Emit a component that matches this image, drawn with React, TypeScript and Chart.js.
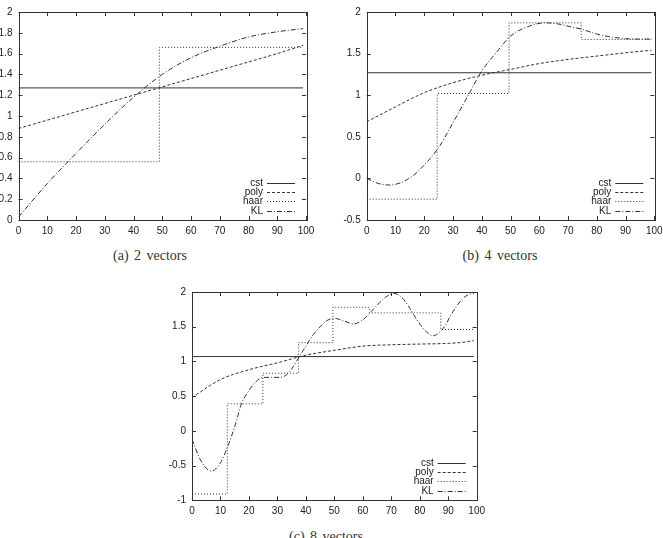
import React, { useEffect, useRef } from 'react';
import { Chart, registerables } from 'chart.js';

Chart.register(...registerables);

// ---------------- data ----------------
const SERIES_NAMES = ['cst', 'poly', 'haar', 'KL'];
const X_MIN = 0;
const X_MAX = 100;
const X_STEP = 10;

// (a) 2 vectors
const A_CAPTION = '(a) 2 vectors';
const A_Y_MIN = 0;
const A_Y_MAX = 2;
const A_Y_STEP = 0.2;
const A_CST_X = [0, 99];
const A_CST_Y = [1.27, 1.27];
const A_POLY_X = [0, 10, 20, 30, 40, 50, 60, 70, 80, 90, 99];
const A_POLY_Y = [0.88, 0.96, 1.04, 1.12, 1.2, 1.28, 1.36, 1.44, 1.52, 1.6, 1.68];
const A_HAAR_EDGES = [0, 49, 99];
const A_HAAR_LEVELS = [0.56, 1.66];
const A_KL_X = [0, 10, 20, 30, 40, 50, 60, 70, 80, 90, 99];
const A_KL_Y = [0.03, 0.35, 0.64, 0.92, 1.18, 1.4, 1.56, 1.67, 1.76, 1.81, 1.84];

// (b) 4 vectors
const B_CAPTION = '(b) 4 vectors';
const B_Y_MIN = -0.5;
const B_Y_MAX = 2;
const B_Y_STEP = 0.5;
const B_CST_X = [0, 99];
const B_CST_Y = [1.27, 1.27];
const B_POLY_X = [0, 10, 20, 30, 40, 50, 60, 70, 80, 90, 99];
const B_POLY_Y = [0.68, 0.86, 1.03, 1.15, 1.24, 1.31, 1.38, 1.43, 1.47, 1.51, 1.54];
const B_HAAR_EDGES = [0, 24.5, 49.5, 74.6, 99];
const B_HAAR_LEVELS = [-0.25, 1.02, 1.87, 1.67];
const B_KL_X = [0, 4, 8, 12, 16, 20, 25, 30, 35, 40, 45, 50, 55, 62, 66, 70, 75, 80, 85, 90, 95, 99];
const B_KL_Y = [0.0, -0.06, -0.08, -0.05, 0.03, 0.16, 0.37, 0.67, 0.98, 1.29, 1.51, 1.71, 1.81, 1.87, 1.86, 1.83, 1.79, 1.735, 1.7, 1.68, 1.675, 1.675];

// (c) 8 vectors
const C_CAPTION = '(c) 8 vectors';
const C_Y_MIN = -1;
const C_Y_MAX = 2;
const C_Y_STEP = 0.5;
const C_CST_X = [0, 99];
const C_CST_Y = [1.07, 1.07];
const C_POLY_X = [0, 10, 20, 30, 40, 50, 60, 70, 80, 90, 95, 99];
const C_POLY_Y = [0.48, 0.74, 0.88, 0.98, 1.09, 1.16, 1.22, 1.24, 1.25, 1.26, 1.275, 1.3];
const C_HAAR_EDGES = [0, 12.4, 24.9, 37.4, 49.5, 62.3, 74.8, 87.4, 99];
const C_HAAR_LEVELS = [-0.91, 0.39, 0.83, 1.27, 1.78, 1.7, 1.7, 1.46];
const C_KL_X = [0, 3, 6.8, 10, 12.4, 15, 17.4, 20, 22.5, 25, 28, 31, 33, 35, 37.7, 40, 42.5, 45, 47.5, 50, 53, 56.7, 60, 63, 66, 68.5, 71, 73.5, 76, 79, 82, 84.7, 87, 89, 91, 93, 95, 97, 99];
const C_KL_Y = [-0.12, -0.42, -0.58, -0.46, -0.24, 0.06, 0.39, 0.58, 0.71, 0.77, 0.77, 0.77, 0.8, 0.89, 1.07, 1.22, 1.38, 1.5, 1.59, 1.62, 1.59, 1.54, 1.6, 1.72, 1.85, 1.94, 1.98, 1.93, 1.8, 1.6, 1.44, 1.37, 1.42, 1.52, 1.67, 1.8, 1.9, 1.96, 1.98];

// ---------------- styling ----------------
const INK = '#333333';
const TEXT = '#222222';
const TICK_FONT = { family: '"Liberation Sans", Arial, sans-serif', size: 10 };
const DASHES: Record<string, number[]> = {
  cst: [],
  poly: [3, 2],
  haar: [1, 2],
  KL: [5, 2, 1, 2],
};

function zip(xs: number[], ys: number[]) {
  return xs.map((x, i) => ({ x, y: ys[i] }));
}
// point i sits at the right end of level i-1 ... drawn with stepped:'before'
// (horizontal at previous level, then vertical at the edge)
function steps(edges: number[], levels: number[]) {
  return edges.map((x, i) => ({ x, y: levels[Math.min(i, levels.length - 1)] }));
}

const framePlugin = {
  id: 'gnuframe',
  afterDatasetsDraw(chart: any) {
    const { ctx, chartArea: a, scales } = chart;
    const tl = 4;
    ctx.save();
    ctx.strokeStyle = INK;
    ctx.lineWidth = 1;
    ctx.setLineDash([]);
    ctx.beginPath();
    for (const t of scales.x.ticks) {
      const px = Math.round(scales.x.getPixelForValue(t.value)) + 0.5;
      ctx.moveTo(px, a.bottom);
      ctx.lineTo(px, a.bottom - tl);
      ctx.moveTo(px, a.top);
      ctx.lineTo(px, a.top + tl);
    }
    for (const t of scales.y.ticks) {
      const py = Math.round(scales.y.getPixelForValue(t.value)) + 0.5;
      ctx.moveTo(a.left, py);
      ctx.lineTo(a.left + tl, py);
      ctx.moveTo(a.right, py);
      ctx.lineTo(a.right - tl, py);
    }
    ctx.stroke();
    ctx.strokeRect(Math.round(a.left) + 0.5, Math.round(a.top) + 0.5, Math.round(a.right - a.left), Math.round(a.bottom - a.top));

    // legend (gnuplot style: text then sample, bottom right inside)
    const rows = [-37, -28, -19, -9.5];
    ctx.font = `${TICK_FONT.size}px ${TICK_FONT.family}`;
    ctx.textAlign = 'right';
    ctx.textBaseline = 'middle';
    chart.data.datasets.forEach((ds: any, i: number) => {
      const y = Math.round(a.bottom + rows[i]) + 0.5;
      ctx.fillStyle = TEXT;
      ctx.fillText(ds.label, a.right - 43, y);
      ctx.strokeStyle = ds.borderColor;
      ctx.setLineDash(ds.borderDash || []);
      ctx.beginPath();
      ctx.moveTo(a.right - 39, y);
      ctx.lineTo(a.right - 11, y);
      ctx.stroke();
    });
    ctx.restore();
  },
};

type Spec = {
  width: number;
  height: number;
  plotLeft: number;
  plotRight: number;
  plotTop: number;
  plotBottom: number;
  yMin: number;
  yMax: number;
  yStep: number;
  cst: { x: number; y: number }[];
  poly: { x: number; y: number }[];
  haar: { x: number; y: number }[];
  kl: { x: number; y: number }[];
};

function fmt(v: number) {
  return String(Number(v.toFixed(2)));
}

function Panel({ spec, left, top }: { spec: Spec; left: number; top: number }) {
  const ref = useRef<HTMLCanvasElement | null>(null);
  useEffect(() => {
    if (!ref.current) return;
    const mk = (name: string, data: any[], extra: any = {}) => ({
      label: name,
      data,
      borderColor: INK,
      borderWidth: 1,
      borderDash: DASHES[name],
      pointRadius: 0,
      fill: false,
      ...extra,
    });
    const chart = new Chart(ref.current, {
      type: 'line',
      data: {
        datasets: [
          mk(SERIES_NAMES[0], spec.cst),
          mk(SERIES_NAMES[1], spec.poly, { cubicInterpolationMode: 'monotone' }),
          mk(SERIES_NAMES[2], spec.haar, { stepped: 'before' }),
          mk(SERIES_NAMES[3], spec.kl, { cubicInterpolationMode: 'monotone' }),
        ],
      },
      options: {
        animation: false,
        responsive: false,
        maintainAspectRatio: false,
        layout: {
          padding: {
            left: 0,
            top: spec.plotTop,
            right: spec.width - spec.plotRight,
            bottom: 0,
          },
        },
        plugins: { legend: { display: false }, tooltip: { enabled: false } },
        scales: {
          x: {
            type: 'linear',
            min: X_MIN,
            max: X_MAX,
            ticks: { stepSize: X_STEP, padding: 5, color: TEXT, font: TICK_FONT, maxRotation: 0, autoSkip: false },
            grid: { display: false, drawTicks: false },
            border: { display: false },
            afterFit: (s: any) => {
              s.height = spec.height - spec.plotBottom;
            },
          },
          y: {
            type: 'linear',
            min: spec.yMin,
            max: spec.yMax,
            ticks: { stepSize: spec.yStep, padding: 6, color: TEXT, font: TICK_FONT, autoSkip: false, callback: (v: any) => fmt(Number(v)) },
            grid: { display: false, drawTicks: false },
            border: { display: false },
            afterFit: (s: any) => {
              s.width = spec.plotLeft;
            },
          },
        },
      },
      plugins: [framePlugin],
    } as any);
    return () => chart.destroy();
  }, [spec]);
  return (
    <canvas
      ref={ref}
      width={spec.width}
      height={spec.height}
      style={{ position: 'absolute', left, top, width: spec.width, height: spec.height }}
    />
  );
}

const SPEC_A: Spec = {
  width: 330, height: 240, plotLeft: 18.5, plotRight: 306, plotTop: 8.3, plotBottom: 220,
  yMin: A_Y_MIN, yMax: A_Y_MAX, yStep: A_Y_STEP,
  cst: zip(A_CST_X, A_CST_Y), poly: zip(A_POLY_X, A_POLY_Y),
  haar: steps(A_HAAR_EDGES, A_HAAR_LEVELS), kl: zip(A_KL_X, A_KL_Y),
};
const SPEC_B: Spec = {
  width: 340, height: 240, plotLeft: 33.7, plotRight: 321.3, plotTop: 9.5, plotBottom: 220,
  yMin: B_Y_MIN, yMax: B_Y_MAX, yStep: B_Y_STEP,
  cst: zip(B_CST_X, B_CST_Y), poly: zip(B_POLY_X, B_POLY_Y),
  haar: steps(B_HAAR_EDGES, B_HAAR_LEVELS), kl: zip(B_KL_X, B_KL_Y),
};
const SPEC_C: Spec = {
  width: 330, height: 240, plotLeft: 32, plotRight: 320, plotTop: 10.5, plotBottom: 220.3,
  yMin: C_Y_MIN, yMax: C_Y_MAX, yStep: C_Y_STEP,
  cst: zip(C_CST_X, C_CST_Y), poly: zip(C_POLY_X, C_POLY_Y),
  haar: steps(C_HAAR_EDGES, C_HAAR_LEVELS), kl: zip(C_KL_X, C_KL_Y),
};

const captionStyle = (cx: number, top: number): React.CSSProperties => ({
  position: 'absolute',
  left: cx - 80,
  top,
  width: 160,
  textAlign: 'center',
  fontFamily: '"Liberation Serif", "Times New Roman", serif',
  fontSize: 14,
  lineHeight: '14px',
  wordSpacing: 2,
  color: '#333',
  whiteSpace: 'nowrap',
});

export default function App() {
  return (
    <div style={{ position: 'absolute', left: 0, top: 0, width: 663, height: 538, overflow: 'hidden', background: '#fff' }}>
      <Panel spec={SPEC_A} left={0} top={0} />
      <Panel spec={SPEC_B} left={333} top={0} />
      <Panel spec={SPEC_C} left={160} top={280} />
      <div style={captionStyle(150, 249)}>{A_CAPTION}</div>
      <div style={captionStyle(500, 249)}>{B_CAPTION}</div>
      <div style={captionStyle(326, 530)}>{C_CAPTION}</div>
    </div>
  );
}
